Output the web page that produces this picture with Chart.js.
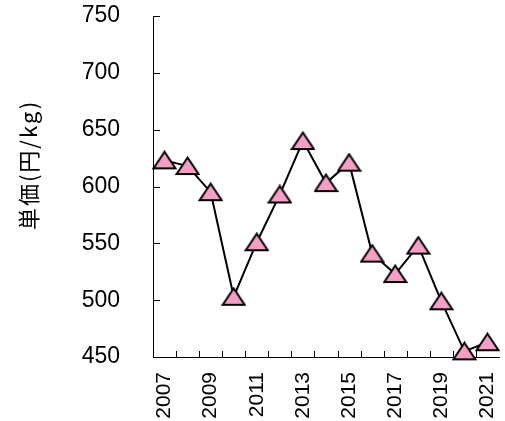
<!DOCTYPE html>
<html>
<head>
<meta charset="utf-8">
<script src="https://cdn.jsdelivr.net/npm/chart.js@4.4.1/dist/chart.umd.min.js"></script>
<style>
  html, body { margin: 0; padding: 0; background: #fff; }
  .canvas { width: 505px; height: 421px; }
</style>
</head>
<body>
<div class="canvas">
  <canvas id="priceChart" width="505" height="421"></canvas>
</div>
<script>
const years = ['2007', '2008', '2009', '2010', '2011', '2012', '2013', '2014',
  '2015', '2016', '2017', '2018', '2019', '2020', '2021'];
const unitPrice = [623, 618, 595, 503, 551, 593, 640, 603, 621, 541, 523, 548, 499, 455, 463];
const yTicks = [450, 500, 550, 600, 650, 700, 750];
const yTitle = '単価(円/kg)';

// pink triangle marker, wider than chart.js built-in one
function makeTriangle() {
  const c = document.createElement('canvas');
  c.width = 25;
  c.height = 20;
  const g = c.getContext('2d');
  g.beginPath();
  g.moveTo(12.5, 1.5);
  g.lineTo(23.5, 18);
  g.lineTo(1.5, 18);
  g.closePath();
  g.fillStyle = '#f59fc8';
  g.fill();
  g.lineWidth = 2;
  g.lineJoin = 'miter';
  g.strokeStyle = '#000';
  g.stroke();
  return c;
}

// short inward tick marks on both axes
const innerTicks = {
  id: 'innerTicks',
  beforeDatasetsDraw(chart) {
    const ctx = chart.ctx;
    const x = chart.scales.x;
    const y = chart.scales.y;
    const area = chart.chartArea;
    ctx.save();
    ctx.strokeStyle = '#000';
    ctx.lineWidth = 1;
    ctx.beginPath();
    yTicks.forEach(v => {
      const py = Math.round(y.getPixelForValue(v)) + 0.5;
      ctx.moveTo(area.left, py);
      ctx.lineTo(area.left + 7, py);
    });
    for (let i = 1; i < years.length; i++) {
      const px = Math.round((x.getPixelForValue(i - 1) + x.getPixelForValue(i)) / 2) + 0.5;
      ctx.moveTo(px, area.bottom);
      ctx.lineTo(px, area.bottom - 6);
    }
    ctx.stroke();
    ctx.restore();
  }
};

// y title sits above the axis middle in the original, so draw it here
const sideTitle = {
  id: 'sideTitle',
  afterDraw(chart) {
    const ctx = chart.ctx;
    ctx.save();
    ctx.translate(29, 165);
    ctx.rotate(-Math.PI / 2);
    ctx.font = '22px "Noto Sans CJK JP"';
    ctx.letterSpacing = '2px';
    ctx.fillStyle = '#000';
    ctx.textAlign = 'center';
    ctx.textBaseline = 'middle';
    ctx.fillText(yTitle, 0, 0);
    ctx.restore();
  }
};

const ctx = document.getElementById('priceChart');

new Chart(ctx, {
  type: 'line',
  data: {
    labels: years,
    datasets: [
      {
        label: '単価',
        data: unitPrice,
        borderColor: '#000',
        borderWidth: 2,
        tension: 0,
        pointStyle: makeTriangle(),
        clip: false,
      },
    ],
  },
  options: {
    responsive: false,
    animation: false,
    layout: { padding: { top: 16, right: 4, left: 0, bottom: 0 } },
    plugins: {
      legend: { display: false },
      tooltip: { enabled: false },
    },
    scales: {
      x: {
        offset: true,
        grid: { display: false, drawTicks: false },
        border: { color: '#000', width: 1 },
        ticks: {
          color: '#000',
          autoSkip: false,
          maxRotation: 90,
          minRotation: 90,
          padding: 15,
          font: { family: 'Liberation Sans', size: 21 },
          callback: (val, i) => (i % 2 === 0 ? years[i] : ''),
        },
        afterFit: scale => {
          scale.height = 64;
          scale.paddingLeft = 0;
          scale.paddingRight = 0;
        },
      },
      y: {
        min: 450,
        max: 750,
        grid: { display: false, drawTicks: false },
        border: { color: '#000', width: 1 },
        ticks: {
          color: '#000',
          stepSize: 50,
          padding: 33,
          font: { family: 'Liberation Sans', size: 23 },
        },
        afterFit: scale => {
          scale.width = 153;
          scale.paddingTop = 0;
          scale.paddingBottom = 0;
        },
      },
    },
  },
  plugins: [innerTicks, sideTitle],
});
</script>
</body>
</html>
